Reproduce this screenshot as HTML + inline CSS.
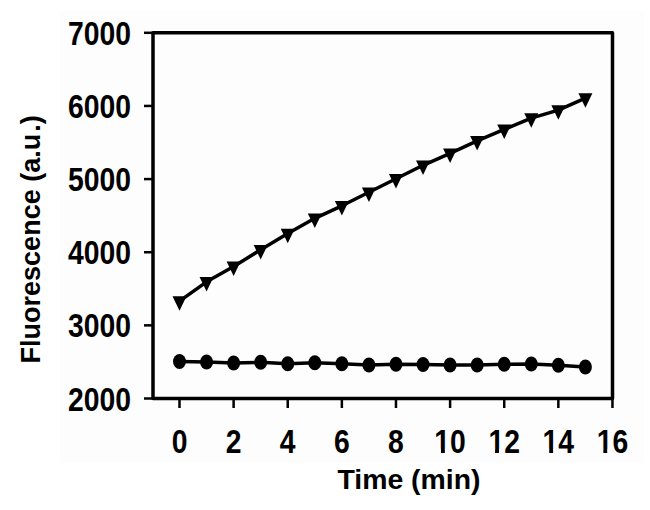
<!DOCTYPE html>
<html><head><meta charset="utf-8"><style>
html,body{margin:0;padding:0;background:#fff;}
body{width:650px;height:510px;overflow:hidden;}
svg{display:block;}
text{font-family:"Liberation Sans",sans-serif;font-weight:bold;fill:#000;}
.tk{font-size:33.5px;}
.tt{font-size:28.4px;}
.tt2{font-size:27px;}
</style></head><body>
<svg width="650" height="510" viewBox="0 0 650 510">
<rect x="60" y="11" width="584" height="452" fill="#fdfdfd"/>
<path d="M153 32.8H612.5V398.5H153Z" fill="none" stroke="#000" stroke-width="3.5" stroke-linejoin="round"/>
<line x1="144" y1="32.8" x2="153" y2="32.8" stroke="#000" stroke-width="2.5"/>
<line x1="144" y1="105.94" x2="153" y2="105.94" stroke="#000" stroke-width="2.5"/>
<line x1="144" y1="179.08" x2="153" y2="179.08" stroke="#000" stroke-width="2.5"/>
<line x1="144" y1="252.22" x2="153" y2="252.22" stroke="#000" stroke-width="2.5"/>
<line x1="144" y1="325.36" x2="153" y2="325.36" stroke="#000" stroke-width="2.5"/>
<line x1="144" y1="398.5" x2="153" y2="398.5" stroke="#000" stroke-width="2.5"/>
<line x1="179.5" y1="398.5" x2="179.5" y2="408" stroke="#000" stroke-width="2.5"/>
<line x1="233.62" y1="398.5" x2="233.62" y2="408" stroke="#000" stroke-width="2.5"/>
<line x1="287.74" y1="398.5" x2="287.74" y2="408" stroke="#000" stroke-width="2.5"/>
<line x1="341.86" y1="398.5" x2="341.86" y2="408" stroke="#000" stroke-width="2.5"/>
<line x1="395.98" y1="398.5" x2="395.98" y2="408" stroke="#000" stroke-width="2.5"/>
<line x1="450.1" y1="398.5" x2="450.1" y2="408" stroke="#000" stroke-width="2.5"/>
<line x1="504.22" y1="398.5" x2="504.22" y2="408" stroke="#000" stroke-width="2.5"/>
<line x1="558.34" y1="398.5" x2="558.34" y2="408" stroke="#000" stroke-width="2.5"/>
<line x1="612.46" y1="398.5" x2="612.46" y2="408" stroke="#000" stroke-width="2.5"/>
<polyline points="179.5,301.1 206.56,281.8 233.62,266.4 260.68,249.8 287.74,233.6 314.8,218.3 341.86,205.8 368.92,192.3 395.98,178.8 423.04,165.3 450.1,153.3 477.16,140.8 504.22,129.4 531.28,118.1 558.34,110.1 585.4,98.1" fill="none" stroke="#000" stroke-width="3.5" stroke-linejoin="round"/>
<polyline points="179.5,361.5 206.56,362 233.62,363 260.68,362.3 287.74,363.8 314.8,362.8 341.86,363.7 368.92,365 395.98,364.3 423.04,364.5 450.1,365 477.16,365 504.22,364.3 531.28,364 558.34,365.2 585.4,367" fill="none" stroke="#000" stroke-width="3.5" stroke-linejoin="round"/>
<path d="M172.5 296.27H186.5L179.5 310.77Z"/>
<path d="M199.56 276.97H213.56L206.56 291.47Z"/>
<path d="M226.62 261.57H240.62L233.62 276.07Z"/>
<path d="M253.68 244.97H267.68L260.68 259.47Z"/>
<path d="M280.74 228.77H294.74L287.74 243.27Z"/>
<path d="M307.8 213.47H321.8L314.8 227.97Z"/>
<path d="M334.86 200.97H348.86L341.86 215.47Z"/>
<path d="M361.92 187.47H375.92L368.92 201.97Z"/>
<path d="M388.98 173.97H402.98L395.98 188.47Z"/>
<path d="M416.04 160.47H430.04L423.04 174.97Z"/>
<path d="M443.1 148.47H457.1L450.1 162.97Z"/>
<path d="M470.16 135.97H484.16L477.16 150.47Z"/>
<path d="M497.22 124.57H511.22L504.22 139.07Z"/>
<path d="M524.28 113.27H538.28L531.28 127.77Z"/>
<path d="M551.34 105.27H565.34L558.34 119.77Z"/>
<path d="M578.4 93.27H592.4L585.4 107.77Z"/>
<ellipse cx="179.5" cy="361.5" rx="6.5" ry="7.5"/>
<ellipse cx="206.56" cy="362" rx="6.5" ry="7.5"/>
<ellipse cx="233.62" cy="363" rx="6.5" ry="7.5"/>
<ellipse cx="260.68" cy="362.3" rx="6.5" ry="7.5"/>
<ellipse cx="287.74" cy="363.8" rx="6.5" ry="7.5"/>
<ellipse cx="314.8" cy="362.8" rx="6.5" ry="7.5"/>
<ellipse cx="341.86" cy="363.7" rx="6.5" ry="7.5"/>
<ellipse cx="368.92" cy="365" rx="6.5" ry="7.5"/>
<ellipse cx="395.98" cy="364.3" rx="6.5" ry="7.5"/>
<ellipse cx="423.04" cy="364.5" rx="6.5" ry="7.5"/>
<ellipse cx="450.1" cy="365" rx="6.5" ry="7.5"/>
<ellipse cx="477.16" cy="365" rx="6.5" ry="7.5"/>
<ellipse cx="504.22" cy="364.3" rx="6.5" ry="7.5"/>
<ellipse cx="531.28" cy="364" rx="6.5" ry="7.5"/>
<ellipse cx="558.34" cy="365.2" rx="6.5" ry="7.5"/>
<ellipse cx="585.4" cy="367" rx="6.5" ry="7.5"/>
<text x="155.03" y="44.9" text-anchor="end" transform="scale(0.845 1)" class="tk">7000</text>
<text x="155.03" y="118.04" text-anchor="end" transform="scale(0.845 1)" class="tk">6000</text>
<text x="155.03" y="191.18" text-anchor="end" transform="scale(0.845 1)" class="tk">5000</text>
<text x="155.03" y="264.32" text-anchor="end" transform="scale(0.845 1)" class="tk">4000</text>
<text x="155.03" y="337.46" text-anchor="end" transform="scale(0.845 1)" class="tk">3000</text>
<text x="155.03" y="410.6" text-anchor="end" transform="scale(0.845 1)" class="tk">2000</text>
<text x="212.43" y="453.5" text-anchor="middle" transform="scale(0.845 1)" class="tk">0</text>
<text x="276.47" y="453.5" text-anchor="middle" transform="scale(0.845 1)" class="tk">2</text>
<text x="340.52" y="453.5" text-anchor="middle" transform="scale(0.845 1)" class="tk">4</text>
<text x="404.57" y="453.5" text-anchor="middle" transform="scale(0.845 1)" class="tk">6</text>
<text x="468.62" y="453.5" text-anchor="middle" transform="scale(0.845 1)" class="tk">8</text>
<text x="532.66" y="453.5" text-anchor="middle" transform="scale(0.845 1)" class="tk">10</text>
<rect x="434.77" y="448.88" width="6.19" height="5.82" fill="#fdfdfd"/>
<rect x="444.85" y="448.88" width="5.2" height="5.82" fill="#fdfdfd"/>
<text x="596.71" y="453.5" text-anchor="middle" transform="scale(0.845 1)" class="tk">12</text>
<rect x="488.89" y="448.88" width="6.19" height="5.82" fill="#fdfdfd"/>
<rect x="498.97" y="448.88" width="5.2" height="5.82" fill="#fdfdfd"/>
<text x="660.76" y="453.5" text-anchor="middle" transform="scale(0.845 1)" class="tk">14</text>
<rect x="543.01" y="448.88" width="6.19" height="5.82" fill="#fdfdfd"/>
<rect x="553.09" y="448.88" width="5.2" height="5.82" fill="#fdfdfd"/>
<text x="724.8" y="453.5" text-anchor="middle" transform="scale(0.845 1)" class="tk">16</text>
<rect x="597.13" y="448.88" width="6.19" height="5.82" fill="#fdfdfd"/>
<rect x="607.21" y="448.88" width="5.2" height="5.82" fill="#fdfdfd"/>
<text x="409" y="489" text-anchor="middle" class="tt">Time (min)</text>
<text transform="translate(40 363.5) rotate(-90)" x="0" y="0" dx="0 0 0 0 0 0 0 0 0 0 0 0 0 0 0 0 0 2 0" class="tt2">Fluorescence (a.u.)</text>
</svg>
</body></html>
